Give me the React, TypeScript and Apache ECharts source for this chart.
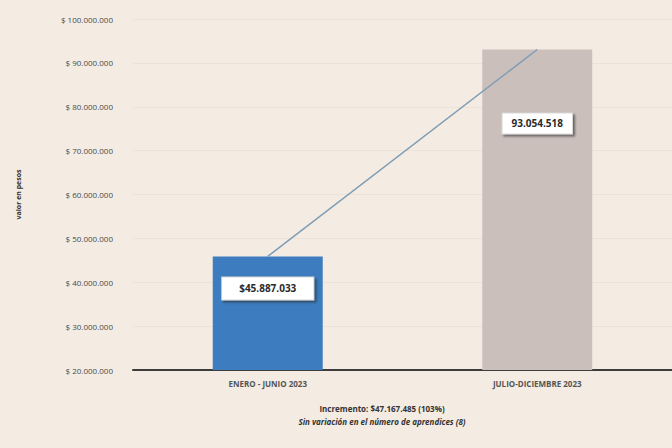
import React, { useEffect, useRef } from "react";
import * as echarts from "echarts";

const categories = ["ENERO - JUNIO 2023", "JULIO-DICIEMBRE 2023"];
const values = [45887033, 93054518];
const barColors = ["#3d7dbf", "#cbbfbb"];
const labelTexts = ["$45.887.033", "93.054.518"];
const yMin = 20000000;
const yMax = 100000000;
const yInterval = 10000000;
const yAxisName = "valor en pesos";
const footLine1 = "Incremento: $47.167.485 (103%)";
const footLine2 = "Sin variación en el número de aprendices (8)";

const fmt = (v: number) =>
  "$ " + String(Math.round(v)).replace(/\B(?=(\d{3})+(?!\d))/g, ".");

export default function App() {
  const ref = useRef<HTMLDivElement>(null);
  useEffect(() => {
    if (!ref.current) return;
    const chart = echarts.init(ref.current, null, { renderer: "svg" });
    const labelOffsets = [32, 74];
    const labelPads = [
      [6, 17],
      [5, 9],
    ];
    chart.setOption({
      animation: false,
      backgroundColor: "#f4ece2",
      textStyle: { fontFamily: "Open Sans" },
      grid: { left: 133, top: 19, width: 558, height: 351 },
      xAxis: {
        type: "category",
        data: categories,
        axisLine: { lineStyle: { color: "#3c3c3c", width: 2 } },
        axisTick: { show: false },
        axisLabel: { color: "#555", fontSize: 8, margin: 9, fontWeight: "bold" },
      },
      yAxis: {
        type: "value",
        min: yMin,
        max: yMax,
        interval: yInterval,
        name: yAxisName,
        nameLocation: "middle",
        nameRotate: 90,
        nameGap: 111,
        nameTextStyle: { fontSize: 7, color: "#333", fontWeight: "bold" },
        axisLine: { show: false },
        axisTick: { show: false },
        axisLabel: {
          color: "#4a4a4a",
          fontSize: 8,
          margin: 20,
          formatter: (v: number) => fmt(v),
        },
        splitLine: { lineStyle: { color: "#ebe2d8", width: 1 } },
      },
      series: [
        {
          type: "bar",
          barWidth: 110,
          z: 2,
          data: values.map((v, i) => ({
            value: v,
            itemStyle: { color: barColors[i] },
            label: {
              show: true,
              position: ["50%", labelOffsets[i]],
              align: "center",
              verticalAlign: "middle",
              formatter: () => labelTexts[i],
              fontSize: 10,
              fontWeight: "bold",
              color: "#2a2a2a",
              backgroundColor: "#ffffff",
              padding: labelPads[i],
              borderColor: "#d8d8d8",
              borderWidth: 1,
              shadowColor: "rgba(40,40,40,0.6)",
              shadowOffsetX: 2,
              shadowOffsetY: 2,
              shadowBlur: 2,
            },
          })),
        },
        {
          type: "line",
          data: values,
          symbol: "none",
          z: 5,
          lineStyle: { color: "#7e9db6", width: 1.5 },
        },
      ],
      graphic: [
        {
          type: "text",
          x: 382,
          y: 408,
          style: {
            text: footLine1,
            fontSize: 8,
            fontWeight: "bold",
            fill: "#333",
            align: "center",
            verticalAlign: "middle",
            fontFamily: "Open Sans",
          },
        },
        {
          type: "text",
          x: 382,
          y: 421,
          style: {
            text: footLine2,
            fontSize: 8,
            fontWeight: "bold",
            fontStyle: "italic",
            fill: "#333",
            align: "center",
            verticalAlign: "middle",
            fontFamily: "Open Sans",
          },
        },
      ],
    });
    return () => chart.dispose();
  }, []);
  return (
    <div
      ref={ref}
      style={{ position: "fixed", left: 0, top: 0, width: 672, height: 448 }}
    />
  );
}
